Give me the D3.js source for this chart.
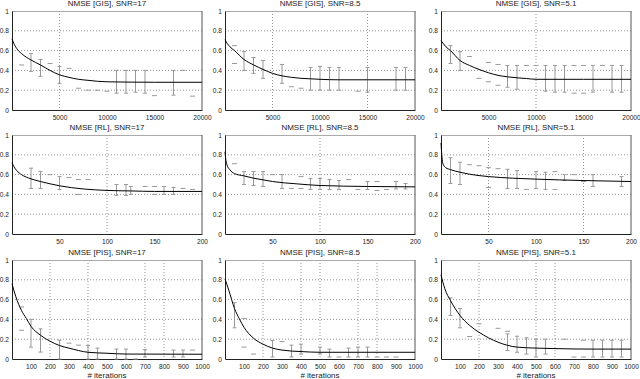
<!DOCTYPE html>
<html>
<head>
<meta charset="utf-8">
<script src="https://cdn.jsdelivr.net/npm/d3@7"></script>
<style>
  body { margin: 0; background: #fff; }
  svg { display: block; font-family: "Liberation Sans", Arial, sans-serif; }
  .tick-label { font-size: 6.6px; fill: #222; }
  .title { font-size: 8px; fill: #222; }
  .grid { stroke: #777; stroke-width: 0.8; stroke-dasharray: 1,2; }
  .bar { stroke: #999; stroke-width: 1; }
  .curve { fill: none; stroke: #000; stroke-width: 1; }
</style>
</head>
<body>
<div id="chart"></div>
<script>
// panel titles and ticks
var titles = [
  "NMSE [GIS], SNR=17", "NMSE [GIS], SNR=8.5", "NMSE [GIS], SNR=5.1",
  "NMSE [RL], SNR=17", "NMSE [RL], SNR=8.5", "NMSE [RL], SNR=5.1",
  "NMSE [PIS], SNR=17", "NMSE [PIS], SNR=8.5", "NMSE [PIS], SNR=5.1"
];
var yTicks = [0, 0.2, 0.4, 0.6, 0.8, 1];
var gisTicks = [5000, 10000, 15000, 20000];
var rlTicks = [50, 100, 150, 200];
var pisTicks = [100, 200, 300, 400, 500, 600, 700, 800, 900, 1000];

// GIS
var gisCurveX = [0, 250, 500, 1000, 2000, 3000, 4000, 5000, 6000, 7000, 8000, 9000, 10000, 12000, 15000, 20000];
var gis17Curve = [0.72, 0.66, 0.62, 0.57, 0.505, 0.455, 0.40, 0.355, 0.33, 0.31, 0.30, 0.29, 0.285, 0.282, 0.28, 0.28];
var gis85Curve = [0.71, 0.67, 0.64, 0.60, 0.51, 0.456, 0.41, 0.37, 0.345, 0.33, 0.32, 0.315, 0.31, 0.305, 0.305, 0.305];
var gis51Curve = [0.70, 0.67, 0.64, 0.60, 0.50, 0.45, 0.41, 0.376, 0.35, 0.335, 0.325, 0.318, 0.31, 0.31, 0.31, 0.31];

var gis17BarX = [2000, 3000, 5000, 11000, 12000, 13000, 14000, 17000];
var gis17BarLo = [0.39, 0.34, 0.27, 0.17, 0.17, 0.18, 0.17, 0.15];
var gis17BarHi = [0.57, 0.51, 0.44, 0.40, 0.40, 0.40, 0.40, 0.40];
var gis17DashX = [1000, 4000, 6000, 7000, 8000, 9000, 10000, 15000, 18000, 19000];
var gis17DashY = [0.455, 0.47, 0.42, 0.22, 0.20, 0.20, 0.19, 0.145, 0.40, 0.14];

var gis85BarX = [2000, 3000, 4000, 6000, 9000, 10000, 11000, 12000, 15000, 18000, 19000];
var gis85BarLo = [0.40, 0.37, 0.32, 0.27, 0.20, 0.20, 0.20, 0.20, 0.18, 0.20, 0.20];
var gis85BarHi = [0.59, 0.53, 0.50, 0.46, 0.43, 0.44, 0.43, 0.43, 0.43, 0.43, 0.43];
var gis85DashX = [1000, 1000, 7000, 8000, 14000];
var gis85DashY = [0.65, 0.47, 0.235, 0.22, 0.19];

var gis51BarX = [1000, 2000, 7000, 8000, 11000, 12000, 13000, 16000, 18000, 19000];
var gis51BarLo = [0.47, 0.40, 0.23, 0.21, 0.19, 0.18, 0.18, 0.18, 0.18, 0.18];
var gis51BarHi = [0.65, 0.59, 0.45, 0.45, 0.45, 0.45, 0.45, 0.45, 0.45, 0.45];
var gis51DashX = [3000, 4000, 5000, 5000, 6000, 6000, 9000, 10000, 14000, 14000, 15000, 15000, 17000];
var gis51DashY = [0.54, 0.32, 0.48, 0.285, 0.46, 0.25, 0.45, 0.45, 0.45, 0.17, 0.45, 0.17, 0.45];

// RL
var rl17CurveX = [0, 2, 5, 10, 20, 30, 40, 50, 75, 100, 125, 150, 200];
var rl17Curve = [0.72, 0.68, 0.64, 0.60, 0.557, 0.53, 0.507, 0.487, 0.455, 0.44, 0.435, 0.43, 0.43];
var rl17BarX = [20, 30, 50, 110, 120, 125, 160, 170];
var rl17BarLo = [0.46, 0.46, 0.45, 0.39, 0.39, 0.40, 0.40, 0.40];
var rl17BarHi = [0.665, 0.63, 0.58, 0.50, 0.50, 0.48, 0.48, 0.47];
var rl17DashX = [40, 60, 70, 80, 70, 140, 150, 150, 180, 190];
var rl17DashY = [0.60, 0.57, 0.55, 0.55, 0.40, 0.48, 0.48, 0.40, 0.46, 0.45];

var rlCurveX = [0, 1, 2, 5, 10, 20, 30, 40, 50, 75, 100, 150, 200];
var rl85Curve = [0.83, 0.74, 0.70, 0.65, 0.61, 0.587, 0.564, 0.547, 0.53, 0.507, 0.49, 0.48, 0.476];
var rl85BarX = [20, 30, 40, 60, 90, 100, 110, 120, 150, 180, 190];
var rl85BarLo = [0.50, 0.49, 0.48, 0.46, 0.45, 0.45, 0.45, 0.45, 0.45, 0.455, 0.455];
var rl85BarHi = [0.63, 0.63, 0.63, 0.60, 0.56, 0.56, 0.55, 0.54, 0.53, 0.53, 0.51];
var rl85DashX = [10, 50, 70, 80, 80, 130, 140, 160, 160, 170];
var rl85DashY = [0.71, 0.60, 0.46, 0.58, 0.46, 0.55, 0.45, 0.53, 0.44, 0.45];

var rl51Curve = [0.92, 0.78, 0.71, 0.67, 0.65, 0.624, 0.604, 0.59, 0.58, 0.564, 0.554, 0.54, 0.53];
var rl51BarX = [10, 20, 70, 80, 100, 110, 130, 160, 190];
var rl51BarLo = [0.51, 0.50, 0.46, 0.46, 0.46, 0.45, 0.54, 0.48, 0.48];
var rl51BarHi = [0.77, 0.725, 0.654, 0.64, 0.63, 0.624, 0.60, 0.60, 0.58];
var rl51DashX = [30, 40, 50, 50, 60, 90, 120, 120, 140, 150];
var rl51DashY = [0.70, 0.69, 0.67, 0.47, 0.66, 0.45, 0.63, 0.45, 0.60, 0.53];

// PIS
var pis17CurveX = [0, 20, 50, 75, 100, 150, 200, 250, 300, 400, 500, 600, 800, 1000];
var pis17Curve = [0.76, 0.63, 0.49, 0.41, 0.33, 0.24, 0.18, 0.136, 0.11, 0.068, 0.058, 0.05, 0.049, 0.048];
var pis17BarX = [100, 150, 250, 400, 450, 550, 600, 700, 850, 900];
var pis17BarLo = [0.12, 0.07, 0, 0, 0, 0, 0, 0.02, 0.02, 0.02];
var pis17BarHi = [0.40, 0.305, 0.19, 0.136, 0.11, 0.10, 0.10, 0.095, 0.09, 0.09];
var pis17DashX = [50, 50, 300, 350, 650, 950];
var pis17DashY = [0.525, 0.29, 0.16, 0.14, 0, 0.09];

var pis85CurveX = [0, 20, 50, 75, 100, 150, 200, 250, 300, 400, 500, 1000];
var pis85Curve = [0.81, 0.695, 0.51, 0.407, 0.32, 0.21, 0.15, 0.11, 0.09, 0.075, 0.068, 0.068];
var pis85BarX = [50, 250, 350, 400, 500, 550, 650, 700, 750];
var pis85BarLo = [0.315, 0.02, 0.02, 0.05, 0.05, 0.02, 0.02, 0.02, 0.02];
var pis85BarHi = [0.57, 0.186, 0.14, 0.15, 0.12, 0.10, 0.11, 0.12, 0.12];
var pis85DashX = [100, 100, 150, 300, 600, 800, 850, 900];
var pis85DashY = [0.41, 0.12, 0.05, 0.176, 0.02, 0.02, 0.02, 0.02];

var pis51CurveX = [0, 20, 50, 100, 150, 200, 250, 300, 400, 500, 600, 800, 1000];
var pis51Curve = [0.85, 0.71, 0.59, 0.44, 0.34, 0.27, 0.214, 0.17, 0.12, 0.11, 0.105, 0.10, 0.10];
var pis51BarX = [50, 100, 350, 400, 450, 500, 550, 800, 850, 900, 950];
var pis51BarLo = [0.44, 0.315, 0.085, 0.068, 0.05, 0.02, 0.05, 0.02, 0.02, 0.02, 0.02];
var pis51BarHi = [0.617, 0.51, 0.254, 0.23, 0.214, 0.2, 0.2, 0.19, 0.19, 0.19, 0.19];
var pis51DashX = [150, 200, 300, 350, 650, 700, 750, 750];
var pis51DashY = [0.227, 0.356, 0.31, 0.28, 0.2, 0.02, 0.19, 0.02];

// vertical grid lines that show in each panel
var gridVisible = [
  [5000], [5000, 15000], [10000],
  [100], [100], [50, 150],
  [200, 400, 700, 800], [200, 400, 500, 700, 800], [200, 500, 600]
];

var panels = [
  {max: 20000, ticks: gisTicks, cx: gisCurveX, cy: gis17Curve, bx: gis17BarX, lo: gis17BarLo, hi: gis17BarHi, dx: gis17DashX, dy: gis17DashY},
  {max: 20000, ticks: gisTicks, cx: gisCurveX, cy: gis85Curve, bx: gis85BarX, lo: gis85BarLo, hi: gis85BarHi, dx: gis85DashX, dy: gis85DashY},
  {max: 20000, ticks: gisTicks, cx: gisCurveX, cy: gis51Curve, bx: gis51BarX, lo: gis51BarLo, hi: gis51BarHi, dx: gis51DashX, dy: gis51DashY},
  {max: 200, ticks: rlTicks, cx: rl17CurveX, cy: rl17Curve, bx: rl17BarX, lo: rl17BarLo, hi: rl17BarHi, dx: rl17DashX, dy: rl17DashY},
  {max: 200, ticks: rlTicks, cx: rlCurveX, cy: rl85Curve, bx: rl85BarX, lo: rl85BarLo, hi: rl85BarHi, dx: rl85DashX, dy: rl85DashY},
  {max: 200, ticks: rlTicks, cx: rlCurveX, cy: rl51Curve, bx: rl51BarX, lo: rl51BarLo, hi: rl51BarHi, dx: rl51DashX, dy: rl51DashY},
  {max: 1000, ticks: pisTicks, cx: pis17CurveX, cy: pis17Curve, bx: pis17BarX, lo: pis17BarLo, hi: pis17BarHi, dx: pis17DashX, dy: pis17DashY},
  {max: 1000, ticks: pisTicks, cx: pis85CurveX, cy: pis85Curve, bx: pis85BarX, lo: pis85BarLo, hi: pis85BarHi, dx: pis85DashX, dy: pis85DashY},
  {max: 1000, ticks: pisTicks, cx: pis51CurveX, cy: pis51Curve, bx: pis51BarX, lo: pis51BarLo, hi: pis51BarHi, dx: pis51DashX, dy: pis51DashY}
];

var lefts = [12, 225, 441],
    tops = [11, 135, 260],
    width = 190,
    height = 99;

var svg = d3.select("#chart").append("svg")
    .attr("width", 640)
    .attr("height", 379);

panels.forEach(function(p, i) {
  var col = i % 3, row = Math.floor(i / 3);
  var g = svg.append("g")
      .attr("transform", "translate(" + lefts[col] + "," + tops[row] + ")");

  var x = d3.scaleLinear().domain([0, p.max]).range([0, width]),
      y = d3.scaleLinear().domain([0, 1]).range([height, 0]);

  // grid
  g.selectAll(".hgrid")
    .data([0.2, 0.4, 0.6, 0.8])
    .enter().append("line")
      .attr("class", "grid")
      .attr("x1", 0).attr("x2", width)
      .attr("y1", function(d) { return y(d); })
      .attr("y2", function(d) { return y(d); });

  g.selectAll(".vgrid")
    .data(gridVisible[i])
    .enter().append("line")
      .attr("class", "grid")
      .attr("x1", function(d) { return x(d); })
      .attr("x2", function(d) { return x(d); })
      .attr("y1", 0).attr("y2", height);

  // frame: light top, dark right
  g.append("line").attr("x1", 0).attr("x2", width).attr("y1", 0.5).attr("y2", 0.5)
    .attr("stroke", "#aaa");
  g.append("line").attr("x1", width).attr("x2", width).attr("y1", 0).attr("y2", height)
    .attr("stroke", "#555");

  // axes
  g.append("g")
    .attr("transform", "translate(0," + height + ")")
    .call(d3.axisBottom(x).tickValues(p.ticks).tickSize(0).tickPadding(5).tickFormat(d3.format("d")))
    .call(function(a) {
      a.select(".domain").attr("stroke", "#222");
      a.selectAll("text").attr("class", "tick-label").attr("font-size", null).attr("font-family", null);
    });

  g.append("g")
    .call(d3.axisLeft(y).tickValues(yTicks).tickSize(0).tickPadding(3).tickFormat(d3.format("")))
    .call(function(a) {
      a.select(".domain").attr("stroke", "#222");
      a.selectAll("text").attr("class", "tick-label").attr("font-size", null).attr("font-family", null);
    });

  // error bars
  var bars = p.bx.map(function(d, k) { return {x: d, lo: p.lo[k], hi: p.hi[k]}; });
  var eb = g.selectAll(".eb").data(bars).enter().append("g");
  eb.append("line").attr("class", "bar")
    .attr("x1", function(d) { return x(d.x); }).attr("x2", function(d) { return x(d.x); })
    .attr("y1", function(d) { return y(d.lo); }).attr("y2", function(d) { return y(d.hi); });
  eb.append("line").attr("class", "bar")
    .attr("x1", function(d) { return x(d.x) - 2; }).attr("x2", function(d) { return x(d.x) + 2; })
    .attr("y1", function(d) { return y(d.hi); }).attr("y2", function(d) { return y(d.hi); });
  eb.append("line").attr("class", "bar")
    .attr("x1", function(d) { return x(d.x) - 2; }).attr("x2", function(d) { return x(d.x) + 2; })
    .attr("y1", function(d) { return y(d.lo); }).attr("y2", function(d) { return y(d.lo); });

  // loose dashes
  var dashes = p.dx.map(function(d, k) { return {x: d, y: p.dy[k]}; });
  g.selectAll(".dash").data(dashes).enter().append("line")
    .attr("class", "bar")
    .attr("x1", function(d) { return x(d.x) - 2.5; }).attr("x2", function(d) { return x(d.x) + 2.5; })
    .attr("y1", function(d) { return y(d.y); }).attr("y2", function(d) { return y(d.y); });

  // mean curve
  var pts = p.cx.map(function(d, k) { return [d, p.cy[k]]; });
  g.append("path")
    .datum(pts)
    .attr("class", "curve")
    .attr("d", d3.line()
      .x(function(d) { return x(d[0]); })
      .y(function(d) { return y(d[1]); })
      .curve(d3.curveMonotoneX));

  g.append("text")
    .attr("class", "title")
    .attr("x", width / 2)
    .attr("y", -5)
    .attr("text-anchor", "middle")
    .text(titles[i]);

  if (row == 2) {
    g.append("text")
      .attr("class", "title")
      .attr("x", width / 2)
      .attr("y", height + 19)
      .attr("text-anchor", "middle")
      .text("# iterations");
  }
});
</script>
</body>
</html>
